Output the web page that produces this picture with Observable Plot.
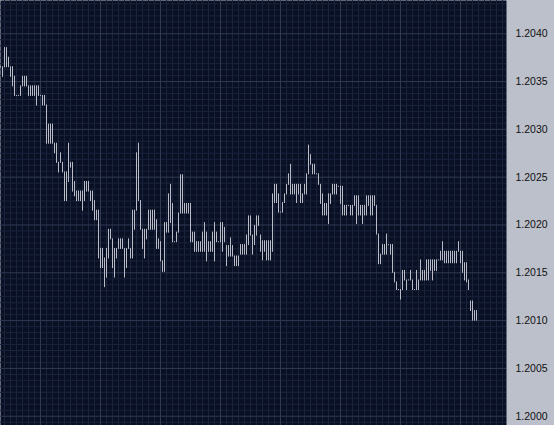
<!DOCTYPE html>
<html>
<head>
<meta charset="utf-8">
<script src="https://cdn.jsdelivr.net/npm/d3@7"></script>
<script src="https://cdn.jsdelivr.net/npm/@observablehq/plot@0.6"></script>
<style>
  html, body { margin: 0; padding: 0; background: #bcc0cb; }
  #chart { width: 554px; height: 425px; overflow: hidden; }
</style>
</head>
<body>
<div id="chart"></div>
<script>
// High and low price of each bar, left to right
const highs = [
  1.20365,1.20365,1.20385,1.20385,1.20375,1.20365,1.20365,1.20355,1.20335,1.20335,
  1.20345,1.20355,1.20355,1.20355,1.20345,1.20345,1.20345,1.20345,1.20345,1.20345,
  1.20335,1.20335,1.20335,1.20325,1.20305,1.20305,1.20305,1.20285,1.20285,1.20265,
  1.20275,1.20265,1.20255,1.20255,1.20285,1.20265,1.20265,1.20245,1.20235,1.20235,
  1.20235,1.20235,1.20245,1.20245,1.20245,1.20235,1.20235,1.20225,1.20215,1.20215,
  1.20175,1.20175,1.20165,1.20175,1.20195,1.20195,1.20185,1.20175,1.20175,1.20185,
  1.20185,1.20185,1.20175,1.20175,1.20185,1.20175,1.20215,1.20215,1.20275,1.20285,
  1.20225,1.20195,1.20195,1.20195,1.20215,1.20215,1.20215,1.20215,1.20205,1.20185,
  1.20182,1.20162,1.20202,1.20202,1.20232,1.20242,1.20222,1.20182,1.20192,1.20212,
  1.20252,1.20252,1.20222,1.20222,1.20222,1.20222,1.20192,1.20192,1.20182,1.20182,
  1.20182,1.20192,1.20202,1.20192,1.20182,1.20182,1.20192,1.20202,1.20192,1.20182,
  1.20202,1.20202,1.20197,1.20178,1.20178,1.20186,1.20178,1.20167,1.20167,1.20167,
  1.20179,1.20179,1.20179,1.20189,1.20209,1.20209,1.20189,1.20199,1.20209,1.20209,
  1.20189,1.20183,1.20183,1.20183,1.20183,1.20183,1.20232,1.20242,1.20242,1.20232,
  1.20213,1.20223,1.20232,1.20242,1.20253,1.20263,1.20242,1.20242,1.20242,1.20242,
  1.20242,1.20232,1.20242,1.20253,1.20283,1.20273,1.20263,1.20263,1.20253,1.20253,
  1.20242,1.20232,1.20222,1.20222,1.20232,1.20232,1.20242,1.20242,1.20242,1.20240,
  1.20240,1.20240,1.20220,1.20220,1.20220,1.20220,1.20220,1.20230,1.20230,1.20230,
  1.20220,1.20220,1.20220,1.20230,1.20230,1.20230,1.20230,1.20230,1.20220,1.20190,
  1.20169,1.20179,1.20179,1.20190,1.20179,1.20179,1.20179,1.20150,1.20140,1.20132,
  1.20132,1.20152,1.20152,1.20142,1.20142,1.20152,1.20142,1.20132,1.20152,1.20142,
  1.20163,1.20152,1.20152,1.20163,1.20163,1.20163,1.20163,1.20163,1.20163,1.20163,
  1.20172,1.20182,1.20172,1.20172,1.20172,1.20172,1.20172,1.20172,1.20172,1.20182,
  1.20172,1.20172,1.20160,1.20160,1.20142,1.20120,1.20120,1.20110,1.20110
];
const lows = [
  1.20365,1.20355,1.20365,1.20365,1.20365,1.20355,1.20345,1.20335,1.20335,1.20335,
  1.20335,1.20345,1.20345,1.20345,1.20335,1.20335,1.20335,1.20335,1.20325,1.20335,
  1.20335,1.20325,1.20325,1.20285,1.20285,1.20285,1.20285,1.20275,1.20265,1.20255,
  1.20265,1.20255,1.20225,1.20225,1.20245,1.20260,1.20235,1.20230,1.20225,1.20225,
  1.20225,1.20215,1.20225,1.20235,1.20235,1.20225,1.20215,1.20205,1.20205,1.20165,
  1.20155,1.20155,1.20135,1.20145,1.20165,1.20185,1.20155,1.20145,1.20165,1.20175,
  1.20175,1.20175,1.20145,1.20155,1.20175,1.20165,1.20165,1.20195,1.20215,1.20225,
  1.20195,1.20175,1.20165,1.20185,1.20195,1.20195,1.20195,1.20195,1.20175,1.20175,
  1.20162,1.20151,1.20151,1.20192,1.20192,1.20202,1.20182,1.20182,1.20182,1.20192,
  1.20212,1.20212,1.20212,1.20212,1.20212,1.20182,1.20182,1.20172,1.20172,1.20172,
  1.20172,1.20172,1.20172,1.20162,1.20172,1.20172,1.20172,1.20162,1.20182,1.20182,
  1.20182,1.20172,1.20182,1.20157,1.20167,1.20167,1.20167,1.20157,1.20157,1.20157,
  1.20169,1.20169,1.20169,1.20169,1.20179,1.20189,1.20169,1.20179,1.20189,1.20199,
  1.20172,1.20163,1.20172,1.20163,1.20163,1.20163,1.20172,1.20223,1.20223,1.20213,
  1.20213,1.20213,1.20223,1.20232,1.20242,1.20232,1.20232,1.20232,1.20223,1.20232,
  1.20223,1.20223,1.20232,1.20232,1.20253,1.20263,1.20253,1.20253,1.20253,1.20242,
  1.20222,1.20210,1.20210,1.20210,1.20201,1.20222,1.20232,1.20232,1.20232,1.20240,
  1.20222,1.20210,1.20210,1.20210,1.20220,1.20210,1.20210,1.20220,1.20201,1.20210,
  1.20210,1.20201,1.20210,1.20210,1.20220,1.20210,1.20210,1.20220,1.20190,1.20159,
  1.20159,1.20169,1.20169,1.20169,1.20179,1.20169,1.20150,1.20140,1.20132,1.20132,
  1.20122,1.20132,1.20142,1.20132,1.20142,1.20142,1.20132,1.20132,1.20132,1.20132,
  1.20142,1.20142,1.20142,1.20142,1.20142,1.20152,1.20142,1.20152,1.20152,1.20163,
  1.20163,1.20163,1.20160,1.20160,1.20160,1.20160,1.20160,1.20160,1.20160,1.20172,
  1.20160,1.20150,1.20142,1.20140,1.20132,1.20110,1.20100,1.20100,1.20100
];
// Price axis tick labels
const priceTicks = [1.2000, 1.2005, 1.2010, 1.2015, 1.2020, 1.2025, 1.2030, 1.2035, 1.2040];

const bars = highs.map((h, i) => ({i, high: h, low: lows[i]}));

// grid positions (bar-index units for time, price units for price)
const minorX = d3.range(2, 253, 3);
const majorX = d3.range(20, 253, 30);
const minorY = d3.range(-2, 72).map(k => 1.2 + k * 0.0000625)
  .filter(v => Math.abs((v - 1.2) / 0.0005 - Math.round((v - 1.2) / 0.0005)) > 1e-6);

const navy = "#091024";
const chart = Plot.plot({
  width: 554,
  height: 425,
  marginLeft: 0,
  marginRight: 48,
  marginTop: 0,
  marginBottom: 0,
  style: {background: "#bcc0cb", fontFamily: "'Liberation Sans', Arial, sans-serif"},
  x: {domain: [0, 253], axis: null},
  y: {domain: [1.199903, 1.204348], axis: null},
  marks: [
    Plot.frame({fill: navy, stroke: null}),
    Plot.ruleX(minorX, {x: d => d, stroke: "#19233c", strokeWidth: 1}),
    Plot.ruleY(minorY, {y: d => d, stroke: "#19233c", strokeWidth: 1}),
    Plot.ruleX(majorX, {x: d => d, stroke: "#303a52", strokeWidth: 1}),
    Plot.ruleY(priceTicks, {y: d => d, stroke: "#303a52", strokeWidth: 1}),
    Plot.ruleX(bars, {x: "i", y1: "low", y2: "high", stroke: "#b9bcc6", strokeWidth: 1, strokeLinecap: "square"}),
    Plot.axisY(priceTicks, {anchor: "right", tickSize: 0, tickPadding: 9, fontSize: 10.5,
      tickFormat: d => d.toFixed(4), fill: "#111", label: null})
  ]
});
document.getElementById("chart").appendChild(chart);
</script>
</body>
</html>
